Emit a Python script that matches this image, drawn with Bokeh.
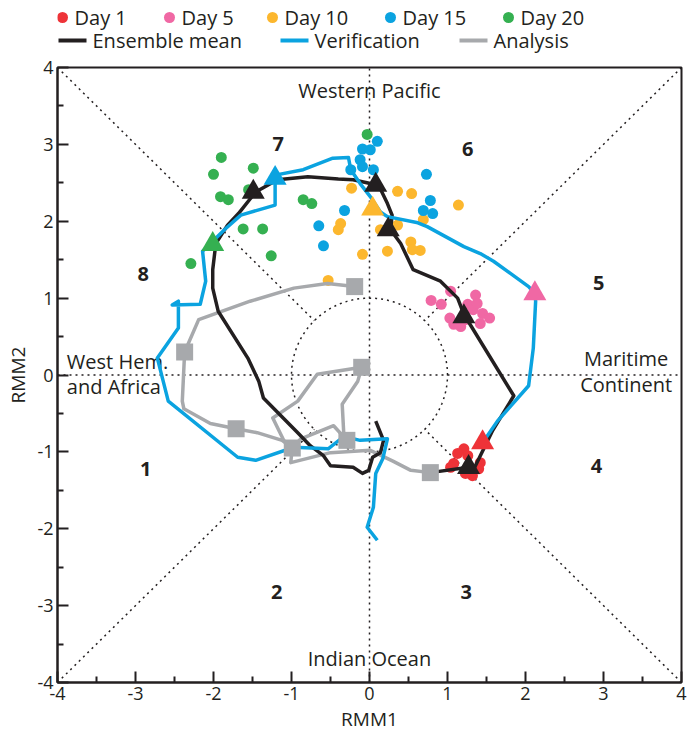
import numpy as np
from bokeh.plotting import figure
from bokeh.models import FixedTicker, Range1d
from bokeh.layouts import column
from bokeh.core.properties import value
from bokeh.embed import file_html
from bokeh.resources import INLINE

FONT = "Open Sans"

# ---------------- data ----------------
# ensemble members (circles) at each lead day
day1_x = [1.21, 1.08, 1.04, 1.26, 1.42, 1.32, 1.23, 1.40, 1.13]
day1_y = [-0.96, -1.15, -1.20, -1.05, -1.14, -1.31, -1.28, -1.22, -1.02]
day5_x = [1.04, 0.79, 0.92, 1.36, 1.26, 1.33, 1.45, 1.54, 1.03, 1.08, 1.17, 1.42, 1.38, 1.23]
day5_y = [1.09, 0.97, 0.92, 1.04, 0.92, 0.85, 0.80, 0.74, 0.74, 0.66, 0.63, 0.67, 0.93, 0.72]
day10_x = [-0.23, 0.36, 0.54, 1.14, -0.37, -0.40, 0.14, 0.36, 0.69, 0.53, 0.65, 0.55, 0.23, -0.09, -0.53]
day10_y = [2.43, 2.39, 2.36, 2.21, 1.97, 1.89, 1.89, 1.95, 2.02, 1.73, 1.62, 1.63, 1.61, 1.57, 1.23]
day15_x = [0.10, -0.09, 0.01, -0.12, -0.09, -0.24, 0.05, 0.73, 0.78, 0.69, 0.81, -0.32, -0.65, -0.59]
day15_y = [3.04, 2.94, 2.93, 2.80, 2.71, 2.67, 2.67, 2.61, 2.27, 2.14, 2.10, 2.14, 1.94, 1.68]
day20_x = [-1.90, -2.00, -1.49, -1.91, -1.81, -1.55, -1.62, -1.37, -1.26, -2.29, -0.85, -0.74, -0.03]
day20_y = [2.83, 2.61, 2.69, 2.32, 2.28, 2.41, 1.90, 1.90, 1.55, 1.45, 2.28, 2.23, 3.13]

# ensemble mean trajectory
mean_x = [0.78, 1.27, 1.33, 1.58, 1.85, 1.21, 1.13, 0.91, 0.56, 0.40, 0.27, 0.29, 0.23, 0.14,
          0.01, -0.21, -0.40, -0.79, -1.18, -1.46, -1.68, -1.82, -1.97, -2.01, -2.01, -1.94,
          -1.56, -1.42, -1.36, -0.92, -0.76, -0.59, -0.50, -0.21, -0.09, -0.01, 0.04, 0.14, 0.18, 0.08]
mean_y = [-1.27, -1.20, -1.24, -0.72, -0.27, 0.79, 1.00, 1.22, 1.37, 1.71, 1.89, 2.08, 2.23, 2.42,
          2.49, 2.54, 2.55, 2.58, 2.54, 2.38, 2.10, 1.95, 1.71, 1.37, 1.13, 0.83,
          0.22, -0.08, -0.30, -0.75, -0.92, -1.05, -1.18, -1.20, -1.28, -1.24, -1.07, -1.01, -0.85, -0.60]
mean_day_x = [1.27, 1.21, 0.24, 0.08, -1.49]
mean_day_y = [-1.20, 0.76, 1.89, 2.47, 2.38]

# verification trajectory
ver_x = [1.45, 1.64, 2.04, 2.10, 2.13, 2.12, 2.04, 1.59, 1.42, 1.21, 0.74, 0.62, 0.23, 0.14, 0.01,
         -0.12, -0.24, -0.27, -0.47, -0.85, -1.21, -1.21, -1.65, -1.85, -2.14, -2.10, -2.17,
         -2.53, -2.45, -2.45, -2.72, -2.58, -1.69, -1.46, -0.97, -0.53, -0.33, -0.12, 0.23,
         0.17, 0.08, 0.05, -0.03, 0.10]
ver_y = [-0.88, -0.60, -0.14, 0.35, 0.96, 1.06, 1.15, 1.48, 1.58, 1.67, 1.93, 1.98, 2.06, 2.12, 2.32,
         2.49, 2.67, 2.83, 2.82, 2.67, 2.60, 2.21, 2.08, 1.90, 1.61, 1.22, 0.92,
         0.91, 0.96, 0.61, 0.22, -0.34, -1.07, -1.11, -0.94, -0.96, -0.80, -0.85, -0.83,
         -1.09, -1.28, -1.72, -1.98, -2.15]
ver_day_x = [1.45, 2.12, 0.04, -1.21, -2.01]
ver_day_y = [-0.88, 1.06, 2.16, 2.56, 1.70]

# analysis trajectory
ana_x = [-0.19, -0.54, -0.97, -1.53, -2.19, -2.37, -2.40, -2.38, -2.04, -1.71, -1.44, -1.12, -0.99,
         -0.88, -0.46, -0.29, -0.33, -0.35, -0.15, -0.10, -0.67, -0.92, -1.24, -1.10, -0.99,
         -1.01, -0.50, 0.01, 0.30, 0.53, 0.78]
ana_y = [1.15, 1.19, 1.13, 0.96, 0.72, 0.30, -0.34, -0.44, -0.63, -0.70, -0.75, -0.85, -0.95,
         -0.83, -0.66, -0.85, -0.76, -0.38, -0.08, 0.10, 0.01, -0.34, -0.56, -0.85, -0.95,
         -1.14, -1.01, -0.98, -1.12, -1.24, -1.27]
ana_pent_x = [-0.19, -2.37, -1.71, -0.99, -0.29, -0.10, 0.78]
ana_pent_y = [1.15, 0.30, -0.70, -0.95, -0.85, 0.10, -1.27]

day_labels = ["Day 1", "Day 5", "Day 10", "Day 15", "Day 20"]
line_labels = ["Ensemble mean", "Verification", "Analysis"]
phase_labels = ["1", "2", "3", "4", "5", "6", "7", "8"]
phase_x = [-2.87, -1.19, 1.24, 2.91, 2.94, 1.26, -1.17, -2.90]
phase_y = [-1.22, -2.82, -2.82, -1.18, 1.20, 2.94, 3.00, 1.31]
ticks = [-4, -3, -2, -1, 0, 1, 2, 3, 4]
minor = [-3.5, -2.5, -1.5, -0.5, 0.5, 1.5, 2.5, 3.5]

RED, PINK, ORANGE, BLUE, GREEN = "#EE3338", "#F068A4", "#FCB72E", "#0BA3E0", "#35B051"
GRAY, BLACK = "#A7A9AC", "#231F20"
day_colors = [RED, PINK, ORANGE, BLUE, GREEN]
line_colors = [BLACK, BLUE, GRAY]

# frame geometry (pixels)
FL, FR = 57, 17          # left / right border
LH, TOP = 54, 13         # legend strip height, main top border

# ---------------- legend strip (pixel layout) ----------------
lg = figure(width=698, height=LH, x_range=Range1d(FL, 698 - FR), y_range=Range1d(LH, 0),
            output_backend="svg", toolbar_location=None,
            min_border_left=FL, min_border_right=FR, min_border_top=0, min_border_bottom=0)
lg.axis.visible = False
lg.grid.visible = False
lg.outline_line_color = None
row1_y, row2_y = 17, 40
dot_px = [62, 169, 272, 390, 508]
lg.scatter(dot_px, [row1_y] * 5, marker="circle", size=11, fill_color=day_colors, line_color=None)
lg.text(x=[d + 12 for d in dot_px], y=[row1_y] * 5, text=day_labels, text_font=value(FONT),
        text_font_size="20px", text_baseline="middle", text_align="left", text_color=BLACK)
seg_px = [58, 280, 459]
lg.segment(x0=seg_px, x1=[s + 28 for s in seg_px], y0=[row2_y] * 3, y1=[row2_y] * 3,
           line_color=line_colors, line_width=4)
lg.text(x=[s + 34 for s in seg_px], y=[row2_y] * 3, text=line_labels, text_font=value(FONT),
        text_font_size="20px", text_baseline="middle", text_align="left", text_color=BLACK)

# ---------------- main figure ----------------
p = figure(width=698, height=734 - LH, x_range=(-4, 4), y_range=(-4, 4),
           output_backend="svg", toolbar_location=None,
           min_border_left=FL, min_border_right=FR, min_border_top=TOP, min_border_bottom=50)
p.grid.visible = False
p.outline_line_color = BLACK
p.outline_line_width = 2

for ax in (p.xaxis[0], p.yaxis[0]):
    ax.ticker = FixedTicker(ticks=ticks, minor_ticks=minor)
    ax.major_label_overrides = {t: str(t) for t in ticks}
    ax.major_tick_in = 11
    ax.major_tick_out = 0
    ax.minor_tick_in = 6
    ax.minor_tick_out = 0
    ax.axis_line_width = 2
    ax.axis_line_color = BLACK
    ax.major_tick_line_width = 2
    ax.minor_tick_line_width = 2
    ax.major_tick_line_color = BLACK
    ax.minor_tick_line_color = BLACK
    ax.major_label_text_font = FONT
    ax.major_label_text_font_size = "18px"
    ax.major_label_text_color = BLACK
    ax.axis_label_text_font = FONT
    ax.axis_label_text_font_size = "19px"
    ax.axis_label_text_font_style = "normal"
    ax.axis_label_text_color = BLACK
    ax.major_label_standoff = 4
    ax.axis_label_standoff = 3
p.xaxis.axis_label = "RMM1"
p.yaxis.axis_label = "RMM2"

# reference dotted lines
dot = dict(line_color=BLACK, line_width=1.5, line_dash="2 4")
p.line([0, 0], [-4, 4], **dot)
p.line([-4, 4], [0, 0], **dot)
c = np.sqrt(0.5)
p.segment(x0=[-4, 4, -4, 4], y0=[-4, -4, 4, 4], x1=[-c, c, -c, c], y1=[-c, -c, c, c], **dot)
th = np.linspace(0, 2 * np.pi, 200)
p.line(np.cos(th), np.sin(th), **dot)

# labels
p.text(x=phase_x, y=phase_y, text=phase_labels, text_font=value(FONT), text_font_style="bold",
       text_font_size="20px", text_align="center", text_baseline="middle", text_color=BLACK)
reg = dict(text_font=value(FONT), text_font_size="20px", text_baseline="middle", text_color=BLACK)
p.text(x=[0, 0], y=[3.70, -3.69], text=["Western Pacific", "Indian Ocean"], text_align="center", **reg)
p.text(x=[-3.88, -3.88], y=[0.17, -0.15], text=["West Hem.", "and Africa"], text_align="left", **reg)
p.text(x=[3.29, 3.29], y=[0.21, -0.12], text=["Maritime", "Continent"], text_align="center", **reg)

# ensemble members
day_xs = [day1_x, day5_x, day10_x, day15_x, day20_x]
day_ys = [day1_y, day5_y, day10_y, day15_y, day20_y]
for xs, ys, col in zip(day_xs, day_ys, day_colors):
    p.scatter(xs, ys, marker="circle", size=11, fill_color=col, line_color=None)

# trajectories
p.line(ana_x, ana_y, line_color=GRAY, line_width=3.5, line_join="round")
p.line(mean_x, mean_y, line_color=BLACK, line_width=3.5, line_join="round")
p.line(ver_x, ver_y, line_color=BLUE, line_width=3.5, line_join="round")
p.scatter(ana_pent_x, ana_pent_y, marker="square", size=17, fill_color=GRAY, line_color=None)
p.scatter(mean_day_x, mean_day_y, marker="triangle", size=23, fill_color=BLACK, line_color=None)
p.scatter(ver_day_x, ver_day_y, marker="triangle", size=23, fill_color=day_colors, line_color=None)

layout = column(lg, p, spacing=0)
open("out.html", "w").write(file_html(layout, INLINE))
